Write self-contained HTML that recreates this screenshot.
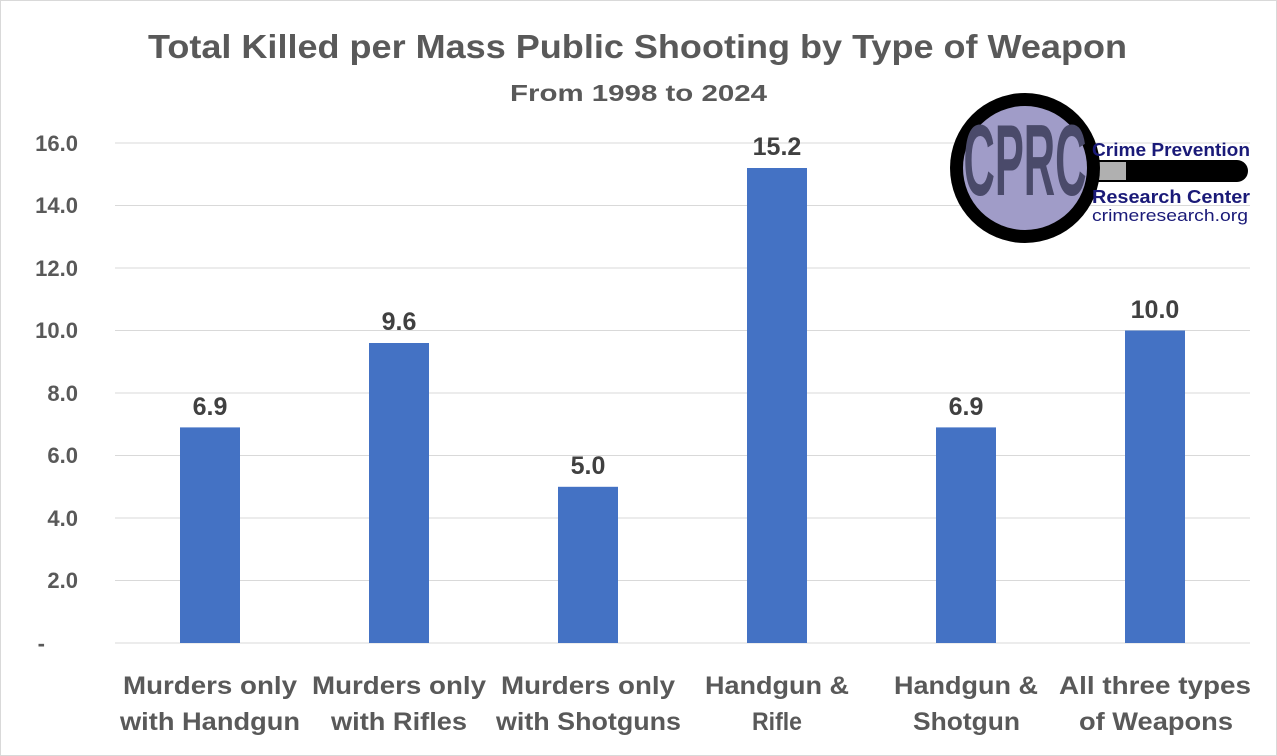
<!DOCTYPE html>
<html><head><style>
body{margin:0;background:#fff;}
svg{display:block;font-family:"Liberation Sans",sans-serif;}
</style></head><body>
<svg width="1277" height="756" viewBox="0 0 1277 756">
<rect x="0.5" y="0.5" width="1276" height="755" fill="#fff" stroke="#d9d9d9"/>
<text x="148" y="58" textLength="979" lengthAdjust="spacingAndGlyphs" font-size="33" font-weight="bold" fill="#595959">Total Killed per Mass Public Shooting by Type of Weapon</text>
<text x="510" y="101" textLength="257" lengthAdjust="spacingAndGlyphs" font-size="23" font-weight="bold" fill="#595959">From 1998 to 2024</text>
<g stroke="#d9d9d9" stroke-width="1">
<line x1="115" x2="1250" y1="143" y2="143"/><line x1="115" x2="1250" y1="205.5" y2="205.5"/>
<line x1="115" x2="1250" y1="268" y2="268"/><line x1="115" x2="1250" y1="330.5" y2="330.5"/>
<line x1="115" x2="1250" y1="393" y2="393"/><line x1="115" x2="1250" y1="455.5" y2="455.5"/>
<line x1="115" x2="1250" y1="518" y2="518"/><line x1="115" x2="1250" y1="580.5" y2="580.5"/>
<line x1="115" x2="1250" y1="643" y2="643"/>
</g>
<g font-size="22" font-weight="bold" fill="#595959" text-anchor="end">
<text x="78" y="151">16.0</text><text x="78" y="213">14.0</text><text x="78" y="276">12.0</text>
<text x="78" y="338">10.0</text><text x="78" y="401">8.0</text><text x="78" y="463">6.0</text>
<text x="78" y="526">4.0</text><text x="78" y="588">2.0</text><text x="45" y="651">-</text>
</g>
<g fill="#4472c4">
<rect x="180" y="427.4" width="60" height="215.6"/>
<rect x="369" y="343" width="60" height="300"/>
<rect x="558" y="486.8" width="60" height="156.2"/>
<rect x="747" y="168" width="60" height="475"/>
<rect x="936" y="427.4" width="60" height="215.6"/>
<rect x="1125" y="330.5" width="60" height="312.5"/>
</g>
<g font-size="25" font-weight="bold" fill="#404040" text-anchor="middle">
<text x="210" y="415">6.9</text><text x="399" y="330">9.6</text><text x="588" y="474">5.0</text>
<text x="777" y="155">15.2</text><text x="966" y="415">6.9</text><text x="1155" y="318">10.0</text>
</g>
<g font-size="25" font-weight="bold" fill="#595959" lengthAdjust="spacingAndGlyphs">
<text x="123" y="694" textLength="174" lengthAdjust="spacingAndGlyphs">Murders only</text><text x="120" y="730" textLength="180" lengthAdjust="spacingAndGlyphs">with Handgun</text>
<text x="312" y="694" textLength="174" lengthAdjust="spacingAndGlyphs">Murders only</text><text x="331" y="730" textLength="136" lengthAdjust="spacingAndGlyphs">with Rifles</text>
<text x="501" y="694" textLength="174" lengthAdjust="spacingAndGlyphs">Murders only</text><text x="496" y="730" textLength="185" lengthAdjust="spacingAndGlyphs">with Shotguns</text>
<text x="705" y="694" textLength="144" lengthAdjust="spacingAndGlyphs">Handgun &amp;</text><text x="752" y="730" textLength="50" lengthAdjust="spacingAndGlyphs">Rifle</text>
<text x="894" y="694" textLength="144" lengthAdjust="spacingAndGlyphs">Handgun &amp;</text><text x="913" y="730" textLength="107" lengthAdjust="spacingAndGlyphs">Shotgun</text>
<text x="1059" y="694" textLength="192" lengthAdjust="spacingAndGlyphs">All three types</text><text x="1079" y="730" textLength="154" lengthAdjust="spacingAndGlyphs">of Weapons</text>
</g>
<!-- logo -->
<rect x="1088" y="160" width="160" height="22" rx="11" fill="#000"/>
<rect x="1090" y="162" width="36" height="18" fill="#b0b0b0"/>
<circle cx="1025" cy="168" r="75" fill="#000"/>
<circle cx="1025" cy="168" r="62" fill="#a09cc8"/>
<text x="0" y="0" text-anchor="middle" font-size="70" font-weight="bold" fill="#4a4a6a" transform="translate(1025,195) scale(0.62,1.45)">CPRC</text>
<g fill="#1a1a78">
<text x="1092" y="156" font-size="18" font-weight="bold" textLength="158" lengthAdjust="spacingAndGlyphs">Crime Prevention</text>
<text x="1092" y="203" font-size="18" font-weight="bold" textLength="158" lengthAdjust="spacingAndGlyphs">Research Center</text>
<text x="1092" y="221" font-size="17" textLength="156" lengthAdjust="spacingAndGlyphs">crimeresearch.org</text>
</g>
</svg>
</body></html>
